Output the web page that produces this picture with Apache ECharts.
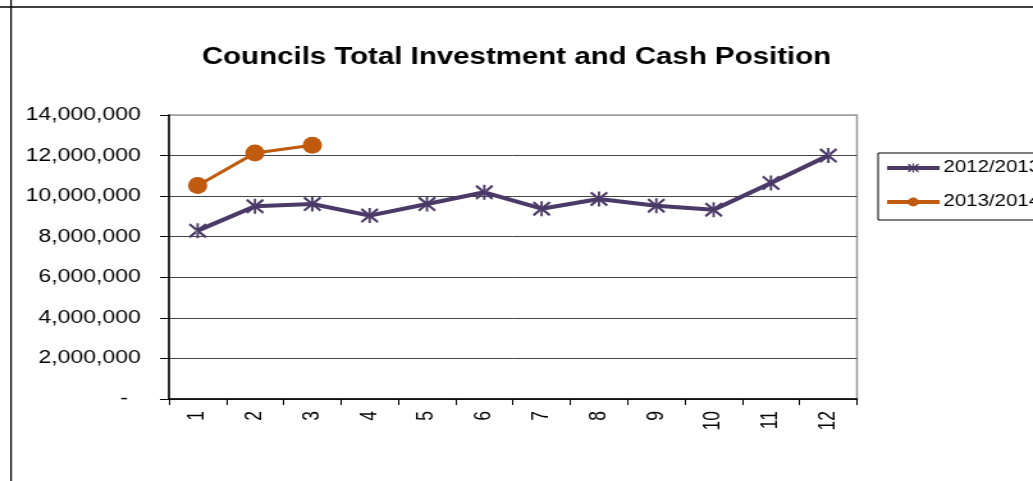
<!DOCTYPE html>
<html>
<head>
<meta charset="utf-8">
<title>Councils Total Investment and Cash Position</title>
<script src="https://cdn.jsdelivr.net/npm/echarts@6/dist/echarts.min.js"></script>
<style>
  html, body { margin: 0; padding: 0; background: #fff; overflow: hidden; }
  /* the chart is laid out narrow and widened, giving the broad lettering of the sheet */
  #chart { width: 807px; height: 481px; transform: scaleX(1.28); transform-origin: 0 0; }
</style>
</head>
<body>
<div id="chart"></div>
<script>
// Month number within the financial year
const months = ['1', '2', '3', '4', '5', '6', '7', '8', '9', '10', '11', '12'];

// Total investment and cash position at each month end
const year2012_13 = [8300000, 9500000, 9610000, 9040000, 9610000, 10190000,
                     9380000, 9860000, 9530000, 9330000, 10650000, 12000000];
const year2013_14 = [10520000, 12130000, 12510000];

const seriesNames = ['2012/2013', '2013/2014'];

// Value axis range
const yMin = 0;
const yMax = 14000000;
const yStep = 2000000;

const purple = '#4b3a68';
const orange = '#bf5a0e';
const font = '"Liberation Sans", Arial, sans-serif';

// asterisk marker: an X with a vertical bar
const starPath = 'path://M8.7 0 L11.3 0 L11.3 16 L8.7 16 Z ' +
  'M0.2 2.0 L1.8 0.0 L19.8 14.0 L18.2 16.0 Z ' +
  'M19.8 2.0 L18.2 0.0 L0.2 14.0 L1.8 16.0 Z';

function fmtAxis(v) {
  if (v === 0) return '-  ';
  return v.toLocaleString('en-US');
}

const chart = echarts.init(document.getElementById('chart'));
chart.setOption({
  animation: false,
  backgroundColor: '#fff',
  title: {
    text: 'Councils Total Investment and Cash Position',
    left: 'center',
    top: 41,
    textStyle: { fontFamily: font, fontSize: 23, fontWeight: 'bold', color: '#000' }
  },
  legend: {
    orient: 'vertical',
    left: 686,
    top: 153,
    padding: [7, 60, 10, 5],
    itemGap: 18,
    itemWidth: 41,
    itemHeight: 11,
    borderColor: '#000',
    borderWidth: 1,
    lineStyle: { width: 4 },
    textStyle: { fontFamily: font, fontSize: 16, color: '#000', lineHeight: 14, padding: [0, 0, 0, -2] },
    data: seriesNames
  },
  grid: {
    left: 132,
    top: 115,
    width: 537.5,
    height: 284,
    show: true,
    borderColor: '#999',
    borderWidth: 1.5,
    backgroundColor: 'transparent'
  },
  xAxis: {
    type: 'category',
    data: months,
    boundaryGap: true,
    axisLine: { lineStyle: { color: '#000', width: 1.5 } },
    axisTick: { show: true, length: 6, lineStyle: { color: '#000', width: 1 } },
    axisLabel: { rotate: 90, margin: 12, fontFamily: font, fontSize: 17.5, color: '#000' },
    splitLine: { show: false }
  },
  yAxis: {
    type: 'value',
    min: yMin,
    max: yMax,
    interval: yStep,
    axisLine: { show: true, lineStyle: { color: '#000', width: 1.5 } },
    axisTick: { show: true, length: 7, lineStyle: { color: '#000', width: 1 } },
    axisLabel: { margin: 22, fontFamily: font, fontSize: 18, color: '#000', formatter: fmtAxis },
    splitLine: {
      show: true,
      lineStyle: { color: ['#444', '#444', '#444', '#444', '#444', '#444', '#444', '#a0a0a0'], width: 1 }
    }
  },
  graphic: [
    { type: 'line', shape: { x1: 0, y1: 7, x2: 807, y2: 7 }, style: { stroke: '#000', lineWidth: 1.5 }, z: 10 },
    { type: 'line', shape: { x1: 8.6, y1: 0, x2: 8.6, y2: 481 }, style: { stroke: '#000', lineWidth: 1.2 }, z: 10 }
  ],
  series: [
    {
      name: seriesNames[0],
      type: 'line',
      data: year2012_13,
      symbol: starPath,
      symbolSize: [14, 15],
      showAllSymbol: true,
      lineStyle: { color: purple, width: 4 },
      itemStyle: { color: purple, borderWidth: 0 },
      z: 3
    },
    {
      name: seriesNames[1],
      type: 'line',
      data: year2013_14,
      symbol: 'circle',
      symbolSize: [15, 17],
      showAllSymbol: true,
      lineStyle: { color: orange, width: 3 },
      itemStyle: { color: orange, borderWidth: 0 },
      z: 4
    }
  ]
});
</script>
</body>
</html>
